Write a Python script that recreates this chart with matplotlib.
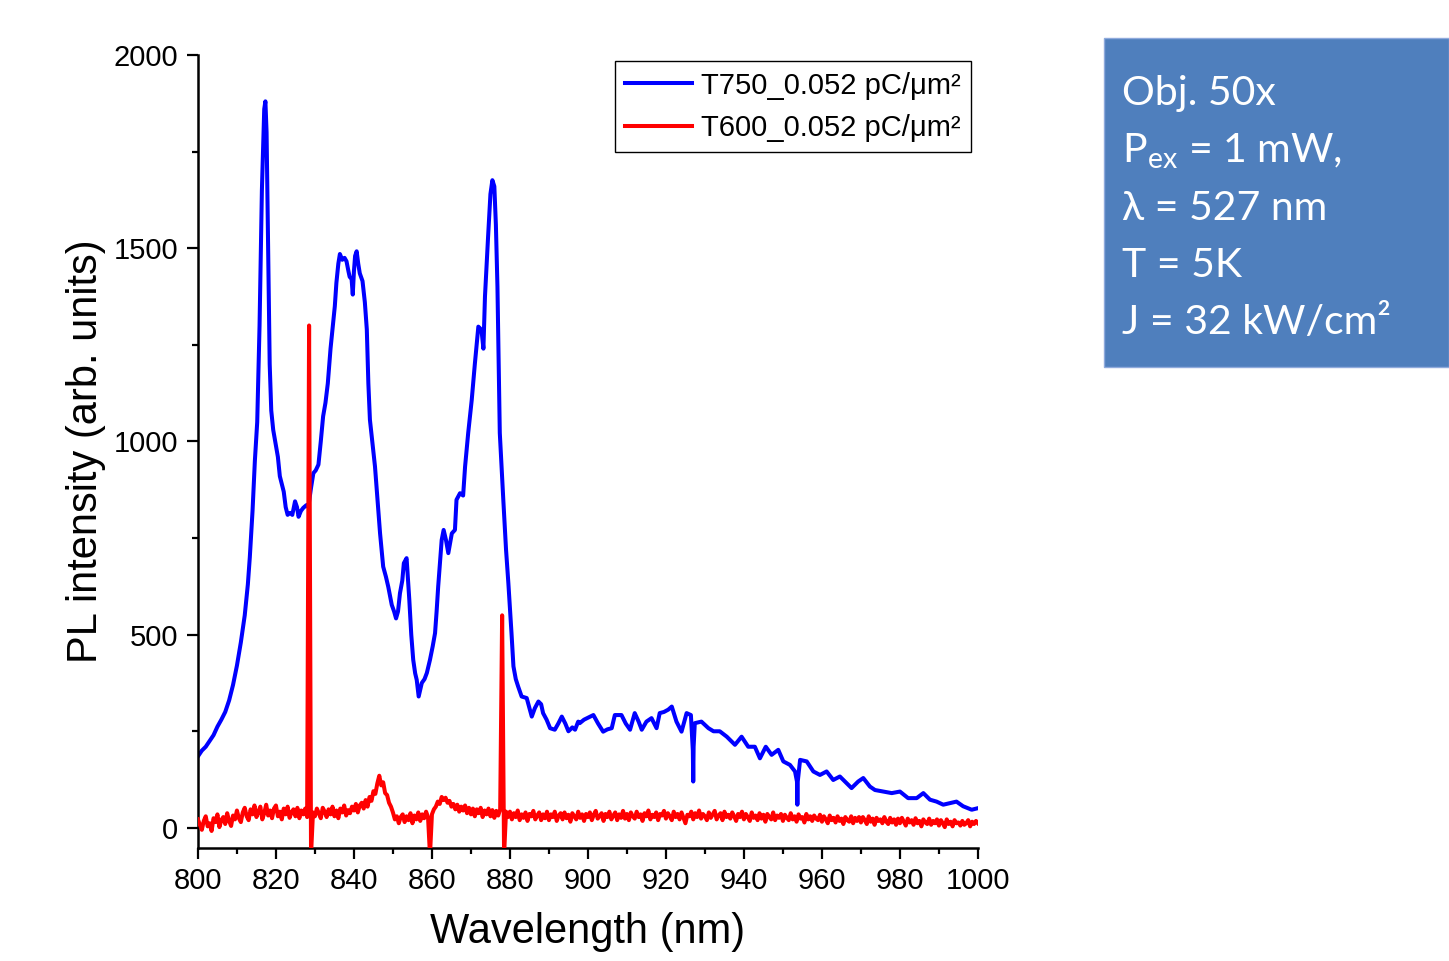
import numpy as np
import matplotlib.pyplot as plt
from matplotlib.patches import Rectangle
from matplotlib.ticker import MultipleLocator

plt.rcParams['font.family'] = ['Liberation Sans', 'DejaVu Sans']
plt.rcParams['mathtext.fontset'] = 'custom'
plt.rcParams['mathtext.rm'] = 'Lato'

# T750 spectrum (blue)
blue_x = [800.0, 801.0, 802.0, 803.0, 804.0, 805.0, 806.0, 807.0, 808.0, 809.0,
          810.0, 811.0, 812.0, 812.8, 813.3, 814.0, 814.6, 815.2, 815.8, 816.4,
          817.0, 817.3, 817.6, 818.0, 818.4, 818.8, 819.3, 820.0, 820.5, 821.0,
          821.5, 822.0, 822.5, 823.0, 823.6, 824.2, 824.9, 825.4, 825.8, 826.4,
          827.0, 827.8, 828.3, 829.0, 829.6, 830.2, 830.9, 831.5, 832.1, 832.7,
          833.3, 834.0, 834.6, 835.1, 835.5, 836.0, 836.4, 837.0, 837.6, 838.1,
          838.6, 838.9, 839.4, 839.7, 840.0, 840.3, 840.7, 841.1, 841.5, 842.2,
          842.8, 843.3, 843.7, 844.1, 845.4, 846.2, 846.7, 847.5, 848.2, 848.8,
          849.7, 850.3, 850.8, 851.3, 851.8, 852.4, 852.8, 853.5, 854.2, 854.7,
          855.2, 855.7, 856.1, 856.6, 857.4, 858.1, 858.7, 859.5, 860.2, 860.8,
          861.2, 861.6, 862.1, 862.5, 863.0, 863.6, 864.2, 864.7, 865.1, 865.9,
          866.3, 867.2, 868.0, 868.5, 869.3, 870.2, 871.0, 871.9, 872.7, 873.2,
          873.6, 874.4, 875.0, 875.5, 876.0, 876.4, 876.8, 877.4, 878.3, 879.0,
          879.6, 880.4, 880.9, 881.5, 882.1, 883.0, 884.3, 885.0, 885.6, 886.4,
          887.3, 888.0, 888.5, 889.4, 890.3, 891.5, 892.4, 893.3, 894.2, 895.0,
          896.0, 896.7, 897.5, 897.9, 899.0, 900.0, 901.4, 902.6, 903.9, 905.0,
          906.1, 906.9, 908.6, 909.7, 910.8, 912.0, 913.0, 913.8, 915.0, 916.3,
          917.6, 918.4, 919.5, 920.6, 921.5, 922.7, 924.0, 925.3, 926.4, 926.9,
          927.0, 927.1, 927.4, 929.1, 930.9, 932.2, 933.8, 935.6, 937.7, 939.4,
          941.1, 942.8, 944.1, 945.6, 947.1, 948.8, 950.1, 951.8, 953.1, 953.6,
          953.7, 953.8, 954.4, 956.1, 957.8, 959.5, 961.2, 962.9, 964.6, 966.3,
          967.6, 969.3, 970.6, 972.3, 973.6, 975.7, 977.9, 980.0, 982.1, 984.3,
          986.0, 987.7, 989.4, 991.1, 992.8, 994.5, 996.2, 998.4, 1000.0]
blue_y = [185, 200, 210, 225, 240, 262, 280, 300, 330, 370,
          420, 480, 550, 630, 700, 820, 950, 1050, 1300, 1650,
          1860, 1880, 1800, 1500, 1200, 1080, 1030, 990, 960, 910,
          890, 870, 830, 810, 815, 810, 845, 830, 805, 820,
          828, 835, 830, 880, 918, 925, 940, 1000, 1065, 1100,
          1150, 1240, 1300, 1350, 1410, 1460, 1485, 1470, 1475, 1466,
          1440, 1426, 1420, 1380, 1440, 1480, 1492, 1460, 1435, 1415,
          1360, 1290, 1150, 1056, 935, 830, 762, 676, 650, 624,
          577, 560, 542, 560, 607, 640, 685, 698, 590, 500,
          435, 400, 383, 340, 375, 385, 401, 435, 470, 504,
          560, 624, 690, 745, 771, 745, 711, 740, 762, 771,
          849, 866, 860, 935, 1022, 1107, 1200, 1297, 1289, 1240,
          1375, 1530, 1640, 1676, 1660, 1560, 1400, 1022, 849, 720,
          633, 504, 418, 385, 366, 340, 336, 310, 288, 310,
          327, 320, 297, 280, 258, 254, 270, 288, 270, 250,
          260, 254, 275, 271, 280, 285, 292, 270, 249, 255,
          258, 292, 292, 270, 254, 297, 275, 254, 275, 284,
          258, 297, 300, 306, 314, 275, 249, 297, 292, 200,
          120, 210, 271, 275, 258, 250, 250, 236, 215, 236,
          210, 210, 180, 210, 189, 202, 172, 163, 146, 120,
          60, 120, 176, 172, 146, 137, 146, 124, 133, 116,
          103, 120, 129, 107, 98, 94, 90, 94, 77, 77,
          90, 73, 68, 60, 64, 68, 56, 47, 51]

# T600 spectrum (red), sampled every 0.5 nm, spikes included
red_x = np.arange(800, 1000.25, 0.5)
red_y = [22, 8, -5, 18, 30, 4, 12, -8, 25, 15, 35, 2, 20, 28, 10, 38, 18, 5, 32, 22,
         45, 25, 15, 40, 52, 30, 20, 48, 35, 58, 28, 42, 55, 22, 38, 60, 32, 45, 25, 50,
         58, 30, 42, 22, 50, 35, 55, 26, 40, 48, 30, 52, 25, 45, 35, 50, 28, 1300, -70, 40,
         30, 50, 38, 25, 52, 42, 28, 48, 35, 55, 30, 45, 25, 50, 40, 58, 32, 46, 38, 55,
         45, 62, 40, 58, 65, 50, 72, 55, 80, 70, 95, 88, 115, 135, 110, 118, 90, 85, 65, 55,
         40, 22, 30, 12, 28, 35, 15, 30, 20, 38, 12, 32, 22, 40, 18, 35, 25, 42, 28, -70,
         35, 48, 55, 68, 62, 80, 72, 78, 65, 70, 55, 62, 48, 60, 42, 55, 45, 58, 38, 52,
         35, 50, 30, 48, 38, 52, 28, 45, 35, 50, 30, 46, 26, 44, 32, 48, 550, -70, 42, 28,
         42, 22, 38, 28, 45, 20, 35, 26, 40, 18, 36, 30, 44, 22, 32, 40, 20, 35, 25, 42,
         20, 35, 28, 42, 18, 32, 38, 22, 40, 25, 34, 16, 38, 30, 22, 42, 26, 35, 18, 36,
         28, 40, 20, 34, 44, 24, 30, 38, 18, 36, 28, 42, 22, 32, 40, 20, 35, 26, 44, 24,
         36, 20, 40, 30, 24, 42, 28, 35, 18, 38, 30, 45, 22, 34, 28, 40, 20, 36, 32, 44,
         24, 38, 30, 20, 42, 28, 36, 22, 40, 26, 12, 34, 30, 42, 22, 38, 28, 45, 24, 36,
         30, 20, 40, 26, 35, 44, 22, 32, 38, 20, 42, 28, 34, 24, 40, 30, 18, 36, 28, 42,
         22, 36, 28, 18, 40, 26, 32, 20, 38, 24, 34, 16, 36, 28, 22, 40, 20, 32, 26, 36,
         18, 34, 26, 20, 38, 22, 30, 16, 35, 24, 28, 14, 36, 22, 30, 18, 32, 24, 20, 34,
         16, 30, 22, 12, 32, 20, 26, 14, 30, 18, 24, 10, 28, 20, 16, 30, 12, 26, 18, 28,
         14, 28, 20, 10, 30, 16, 24, 8, 26, 18, 22, 12, 28, 16, 10, 26, 14, 22, 8, 24,
         12, 26, 16, 6, 24, 14, 20, 8, 25, 12, 18, 4, 22, 14, 10, 24, 8, 18, 12, 22,
         6, 20, 12, 2, 22, 10, 16, 4, 20, 12, 14, 6, 18, 8, 12, 20, 4, 16, 10, 18,
         12]

labels = ['T750_0.052 pC/\u03bcm\u00b2', 'T600_0.052 pC/\u03bcm\u00b2']
box_lines = ['Obj. 50x', r'P$_{\rm ex}$ = 1 mW,', '\u03bb = 527 nm', 'T = 5K',
             'J = 32 kW/cm\u00b2']

fig = plt.figure(figsize=(14.49, 9.61), dpi=100)
ax = fig.add_axes([0.1366, 0.1176, 0.5383, 0.8252])

ax.plot(blue_x, blue_y, color='#0000FF', lw=2.9, label=labels[0], zorder=2)
ax.plot(red_x, red_y, color='#FF0000', lw=2.9, label=labels[1], zorder=3)

ax.set_xlim(800, 1000)
ax.set_ylim(-52, 2000)
ax.xaxis.set_major_locator(MultipleLocator(20))
ax.xaxis.set_minor_locator(MultipleLocator(10))
ax.yaxis.set_major_locator(MultipleLocator(500))
ax.yaxis.set_minor_locator(MultipleLocator(250))
ax.tick_params(which='major', direction='out', length=8, width=1.6, labelsize=21, pad=6)
ax.tick_params(which='minor', direction='out', length=4, width=1.6)
for s in ['top', 'right']:
    ax.spines[s].set_visible(False)
for s in ['left', 'bottom']:
    ax.spines[s].set_linewidth(1.8)

ax.set_xlabel('Wavelength (nm)', fontsize=30, labelpad=12)
ax.set_ylabel('PL intensity (arb. units)', fontsize=30, labelpad=6)

leg = ax.legend(loc='upper right', bbox_to_anchor=(0.991, 0.992), borderaxespad=0,
                fontsize=21, fancybox=False, edgecolor='black', framealpha=1,
                handlelength=2.3, handletextpad=0.3, borderpad=0.35, labelspacing=0.5)
leg.get_frame().set_linewidth(1.0)

fig.patches.append(Rectangle((0.7619, 0.6181), 0.2381, 0.3424, transform=fig.transFigure,
                             facecolor='#4F7FBD', edgecolor='#8FAADC', lw=1, zorder=0))
ys = [105, 162, 220, 277, 334]
for line, yp in zip(box_lines, ys):
    fig.text(1122 / 1449, 1 - yp / 961, line, color='white', fontsize=29.5,
             family=['Lato', 'DejaVu Sans'], va='baseline', ha='left')

fig.savefig('out.png', dpi=100)
